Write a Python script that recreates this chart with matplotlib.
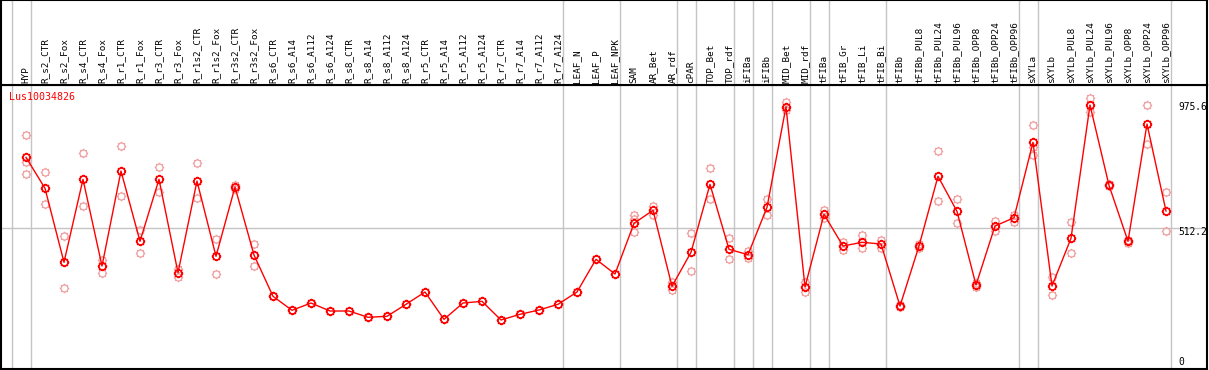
import numpy as np
import matplotlib
matplotlib.use("Agg")
import matplotlib.pyplot as plt
from matplotlib.path import Path
from matplotlib.transforms import offset_copy

# ---------------- data ----------------
gene = "Lus10034826"

samples = [
    "HYP", "R_s2_CTR", "R_s2_Fox", "R_s4_CTR", "R_s4_Fox", "R_r1_CTR", "R_r1_Fox",
    "R_r3_CTR", "R_r3_Fox", "R_r1s2_CTR", "R_r1s2_Fox", "R_r3s2_CTR", "R_r3s2_Fox",
    "R_s6_CTR", "R_s6_A14", "R_s6_A112", "R_s6_A124", "R_s8_CTR", "R_s8_A14",
    "R_s8_A112", "R_s8_A124", "R_r5_CTR", "R_r5_A14", "R_r5_A112", "R_r5_A124",
    "R_r7_CTR", "R_r7_A14", "R_r7_A112", "R_r7_A124", "LEAF_N", "LEAF_P", "LEAF_NPK",
    "SAM", "AR_Bet", "AR_rdf", "cPAR", "TOP_Bet", "TOP_rdf", "iFIBa", "iFIBb",
    "MID_Bet", "MID_rdf", "tFIBa", "tFIB_Gr", "tFIB_Li", "tFIB_Bi", "tFIBb",
    "tFIBb_PUL8", "tFIBb_PUL24", "tFIBb_PUL96", "tFIBb_OPP8", "tFIBb_OPP24",
    "tFIBb_OPP96", "sXYLa", "sXYLb", "sXYLb_PUL8", "sXYLb_PUL24", "sXYLb_PUL96",
    "sXYLb_OPP8", "sXYLb_OPP24", "sXYLb_OPP96",
]

means = [
    770.6, 657.7, 388.4, 690.5, 374.9, 720.7, 464.8, 690.5, 350.5, 684.3,
    410.2, 662.5, 415.0, 264.6, 213.7, 240.2, 211.1, 211.1, 188.2, 191.8,
    235.5, 280.3, 180.9, 240.2, 246.4, 178.4, 199.1, 214.8, 235.5, 280.3,
    399.3, 345.8, 530.3, 577.7, 301.0, 424.8, 672.3, 435.7, 416.1, 588.6,
    954.8, 298.5, 563.1, 447.7, 461.2, 455.0, 229.3, 447.7, 701.4, 574.0,
    305.8, 520.5, 550.7, 825.2, 302.1, 475.7, 961.0, 668.7, 464.8, 891.8,
    575.0,
]

replicates = [
    [851.8, 753.5, 708.7], [716.0, 599.5], [483.0, 293.7], [786.2, 592.2],
    [395.7, 350.5], [811.7, 628.6], [507.1, 421.1], [734.2, 645.4],
    [362.9, 336.0], [748.7, 621.3], [474.3, 344.7], [670.9, 654.1],
    [455.0, 373.8], [264.6], [213.7], [240.2], [211.1], [211.1], [188.2],
    [191.8], [235.5], [280.3], [180.9], [240.2], [246.4], [178.4], [199.1],
    [214.8], [235.5], [280.3], [399.3], [345.8],
    [560.6, 546.0, 498.7], [593.3, 559.5], [315.6, 287.6], [494.0, 357.8],
    [730.5, 617.7], [475.7, 399.3], [428.4, 403.0], [618.8, 560.6],
    [973.0, 942.8], [317.8, 279.2], [579.9, 550.7], [463.4, 433.2],
    [487.8, 441.5], [468.5, 439.3], [233.0, 225.7], [453.9, 439.3],
    [793.5, 610.4], [618.8, 530.3], [314.1, 297.4], [538.7, 503.4],
    [561.7, 536.2], [887.1, 809.2, 779.0], [333.8, 269.4], [534.0, 421.1],
    [985.3, 934.4], [672.3, 665.0], [469.6, 459.7], [959.9, 817.9],
    [645.4, 502.3],
]

# index of the last sample of each group (-1 = left edge)
group_ends = [-1, 0, 28, 31, 34, 35, 37, 38, 39, 41, 42, 45, 52, 53, 60]

ref_values = [0, 512.2, 975.6]
ref_labels = ["0", "512.2", "975.6"]

# ---------------- layout ----------------
W, H = 1209, 370
fig = plt.figure(figsize=(W / 100, H / 100), dpi=100)
fig.patch.set_facecolor("white")

def px_rect(x0, y0, x1, y1):
    return [x0 / W, 1 - y1 / H, (x1 - x0) / W, (y1 - y0) / H]

LEFT, RIGHT, HDR, BOT = 1, 1207, 85, 369
X0, STEP = 26, 19
xlim = ((LEFT - X0) / STEP, (RIGHT - X0) / STEP)
units_per_px = 512.2 / (BOT - 228.3)

ax = fig.add_axes(px_rect(LEFT, HDR, RIGHT, BOT))
hx = fig.add_axes(px_rect(LEFT, 0, RIGHT, HDR))

for a in (ax, hx):
    a.set_xlim(*xlim)
    a.set_xticks([])
    a.set_yticks([])
    for s in a.spines.values():
        s.set_color("black")
        s.set_linewidth(1.5)

ax.set_ylim(0, (BOT - HDR) * units_per_px)
hx.set_ylim(0, HDR)

grid_c = "#c4c4c4"
for g in group_ends:
    for a in (ax, hx):
        a.axvline(g + 0.237, color=grid_c, lw=1.0, zorder=0)
ax.axhline(ref_values[1], color=grid_c, lw=1.0, zorder=0)

mono = "DejaVu Sans Mono"
x = np.arange(len(samples))
for i, name in enumerate(samples):
    hx.text(i, 2, name, rotation=90, ha="center", va="bottom",
            fontsize=6.7, family=mono, color="black")

# custom "gear" circle marker
theta = np.linspace(0, 2 * np.pi, 33)
verts = [(np.cos(t), np.sin(t)) for t in theta]
codes = [Path.MOVETO] + [Path.LINETO] * (len(theta) - 1)
for k in range(8):
    a_ = k * np.pi / 4
    verts += [(np.cos(a_), np.sin(a_)), (1.35 * np.cos(a_), 1.35 * np.sin(a_))]
    codes += [Path.MOVETO, Path.LINETO]
gear = Path(verts, codes)

rep_c = "#f0a0a0"
for i, r in enumerate(replicates):
    ax.plot([i] * len(r), r, linestyle="none", marker=gear, markersize=6.8,
            markerfacecolor="none", markeredgecolor=rep_c, markeredgewidth=0.9,
            zorder=2)

ax.plot(x, means, color="#ff0000", lw=1.0, zorder=3)
ax.plot(x, means, linestyle="none", marker=gear, markersize=6.8,
        markerfacecolor="none", markeredgecolor="#ff0000", markeredgewidth=1.2,
        zorder=4)

# reference value labels at the right
lab_x = (1178 - X0) / STEP
offsets = [7, -4, -6]
for v, lab, off in zip(ref_values, ref_labels, offsets):
    tr = offset_copy(ax.transData, fig=fig, y=off * 0.72, units="points")
    ax.text(lab_x, v, lab, transform=tr, ha="left", va="center",
            fontsize=6.9, family=mono, color="black")

fig.text(9 / W, 1 - 97 / H, gene, ha="left", va="center", fontsize=7.2,
         family=mono, color="#ff0000")

fig.savefig("out.png", dpi=100)
